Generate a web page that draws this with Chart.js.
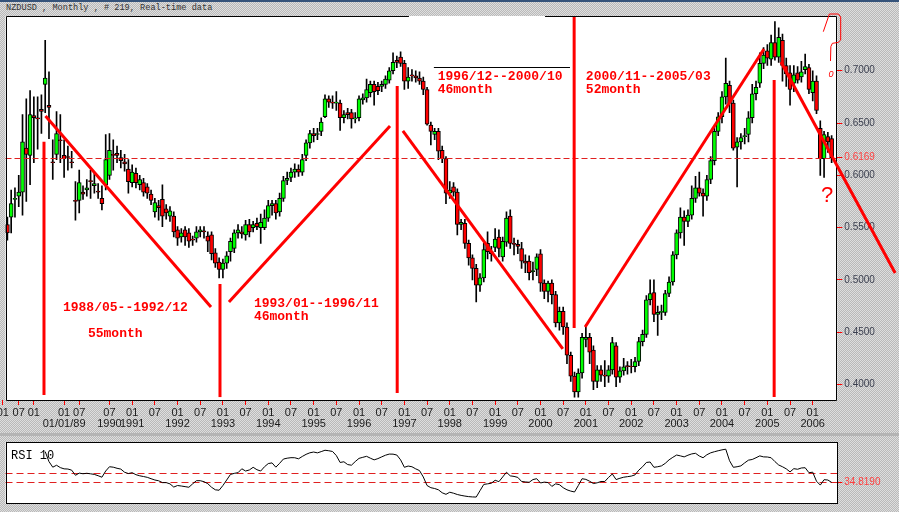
<!DOCTYPE html>
<html>
<head>
<meta charset="utf-8">
<script src="https://cdn.jsdelivr.net/npm/chart.js@4.4.0/dist/chart.umd.min.js"></script>
<style>
  html, body { margin: 0; padding: 0; }
  body {
    width: 899px; height: 512px; overflow: hidden; position: relative;
    background-color: #cccccc;
    background-image: repeating-conic-gradient(#b9b9b9 0% 25%, #dedede 0% 50%);
    background-size: 2px 2px;
  }
  #topline { position: absolute; left: 0; top: 0; width: 899px; height: 2px; background: #35537a; }
  #title { position: absolute; left: 6px; top: 3px; font: 8.6px "Liberation Mono", monospace; color: #333; white-space: pre; }
  #split { position: absolute; left: 0; top: 433px; width: 899px; height: 3px; background: #b4b4b4; }
  #price { position: absolute; left: 0; top: 0; }
  #rsi { position: absolute; left: 0; top: 434px; }
</style>
</head>
<body>
<div id="topline"></div>
<div id="title">NZDUSD , Monthly , # 219, Real-time data</div>
<div id="split"></div>
<canvas id="price" width="899" height="434"></canvas>
<canvas id="rsi" width="899" height="78"></canvas>
<script>
// monthly candles, oldest first (bar 33 = 1991/01)
const opens = [
  .553,.560,.577,.580,.584,.626,.619,.657,.655,.663,
  .687,.667,.613,.620,.634,.619,.618,.613,.576,.576,
  .584,.586,.595,.590,.585,.578,.591,.600,.620,.621,
  .617,.613,.606,.593,.602,.591,.593,.589,.582,.565,
  .571,.577,.568,.561,.561,.548,.541,.548,.545,.539,
  .540,.546,.547,.542,.543,.526,.517,.510,.516,.527,
  .530,.545,.546,.543,.553,.550,.554,.550,.550,.559,
  .571,.573,.565,.578,.595,.598,.603,.606,.603,.619,
  .631,.640,.639,.642,.656,.673,.670,.669,.669,.655,
  .660,.660,.654,.655,.672,.674,.679,.687,.685,.685,
  .687,.691,.700,.710,.713,.707,.690,.696,.695,.693,
  .690,.682,.648,.639,.642,.624,.616,.583,.589,.584,
  .553,.554,.535,.521,.511,.495,.502,.535,.527,.531,
  .541,.522,.536,.561,.535,.534,.530,.518,.518,.508,
  .510,.525,.497,.489,.497,.486,.459,.470,.455,.428,
  .408,.393,.411,.443,.445,.433,.403,.414,.409,.408,
  .414,.437,.407,.413,.418,.4175,.417,.422,.441,.448,
  .481,.488,.467,.469,.469,.487,.498,.524,.545,.560,
  .556,.562,.578,.588,.583,.580,.596,.614,.642,.656,
  .675,.686,.669,.627,.632,.637,.639,.655,.678,.688,
  .707,.719,.711,.727,.713,.729,.705,.698,.688,.698,
  .694,.701,.703,.679,.690,.645,.616,.637,.635
];
const highs = [
  .560,.586,.588,.600,.658,.673,.681,.675,.675,.677,
  .729,.699,.634,.661,.658,.634,.628,.623,.594,.605,
  .590,.596,.605,.603,.592,.590,.639,.640,.634,.628,
  .624,.620,.615,.610,.607,.600,.597,.592,.586,.578,
  .576,.591,.572,.570,.565,.551,.549,.551,.549,.542,
  .551,.551,.551,.546,.546,.530,.521,.520,.527,.540,
  .548,.553,.551,.557,.558,.556,.559,.563,.567,.576,
  .576,.576,.583,.599,.603,.607,.611,.610,.620,.634,
  .643,.645,.645,.655,.677,.676,.676,.680,.672,.662,
  .664,.663,.660,.676,.678,.692,.690,.690,.689,.690,
  .695,.703,.717,.714,.718,.710,.703,.701,.700,.699,
  .694,.684,.651,.645,.645,.628,.618,.594,.593,.587,
  .558,.558,.538,.524,.515,.506,.535,.546,.532,.549,
  .548,.541,.565,.567,.540,.538,.536,.524,.523,.517,
  .525,.529,.500,.499,.500,.489,.474,.474,.459,.431,
  .412,.415,.449,.457,.449,.437,.418,.418,.423,.418,
  .445,.440,.417,.425,.422,.424,.426,.445,.452,.485,
  .500,.500,.475,.476,.490,.503,.527,.548,.569,.566,
  .567,.590,.599,.603,.587,.600,.618,.647,.660,.680,
  .712,.690,.672,.636,.640,.645,.661,.687,.690,.717,
  .722,.725,.734,.747,.741,.735,.712,.705,.705,.704,
  .709,.716,.706,.700,.695,.652,.642,.641,.638
];
const lows = [
  .538,.545,.560,.570,.562,.575,.591,.612,.625,.640,
  .660,.635,.596,.615,.612,.598,.605,.607,.557,.564,
  .577,.580,.578,.583,.578,.567,.586,.596,.605,.612,
  .607,.604,.583,.589,.588,.586,.580,.578,.572,.560,
  .557,.551,.558,.556,.541,.533,.536,.533,.531,.533,
  .536,.541,.540,.527,.519,.512,.502,.502,.511,.518,
  .526,.540,.540,.538,.541,.546,.548,.535,.548,.556,
  .562,.558,.561,.575,.591,.594,.598,.599,.600,.614,
  .626,.632,.634,.638,.655,.665,.664,.662,.643,.650,
  .654,.645,.650,.652,.668,.670,.675,.667,.677,.680,
  .683,.688,.697,.703,.704,.682,.683,.690,.689,.687,
  .677,.648,.629,.634,.615,.612,.573,.578,.580,.543,
  .548,.530,.514,.500,.479,.489,.498,.520,.518,.527,
  .522,.518,.532,.530,.524,.525,.511,.507,.500,.500,
  .504,.489,.482,.479,.477,.455,.452,.448,.420,.403,
  .388,.388,.406,.436,.420,.395,.397,.403,.398,.402,
  .410,.398,.402,.409,.410,.411,.412,.418,.437,.445,
  .476,.460,.447,.462,.466,.484,.495,.520,.540,.533,
  .551,.558,.574,.580,.561,.576,.592,.610,.638,.650,
  .668,.660,.624,.589,.625,.630,.632,.650,.672,.684,
  .702,.705,.705,.710,.708,.690,.685,.667,.680,.688,
  .689,.697,.678,.671,.659,.600,.598,.622,.612
];
const closes = [
  .545,.573,.578,.584,.632,.620,.658,.655,.654,.661,
  .693,.665,.612,.640,.633,.616,.617,.612,.575,.593,
  .582,.588,.594,.592,.584,.573,.615,.624,.619,.619,
  .614,.611,.594,.603,.593,.596,.584,.583,.576,.574,
  .569,.561,.564,.566,.546,.540,.545,.541,.537,.538,
  .546,.548,.546,.537,.525,.516,.510,.516,.523,.537,
  .545,.548,.544,.553,.546,.553,.551,.555,.559,.571,
  .573,.564,.578,.595,.597,.603,.606,.603,.615,.631,
  .640,.638,.640,.651,.673,.670,.669,.670,.655,.658,
  .658,.654,.655,.673,.674,.682,.687,.680,.681,.687,
  .692,.700,.708,.708,.707,.690,.694,.695,.693,.690,
  .682,.649,.642,.642,.623,.616,.583,.586,.584,.553,
  .555,.535,.521,.511,.495,.502,.529,.527,.525,.539,
  .530,.537,.559,.535,.534,.532,.518,.516,.507,.509,
  .522,.497,.489,.497,.486,.459,.470,.455,.428,.408,
  .393,.411,.445,.445,.431,.403,.414,.409,.408,.414,
  .440,.407,.413,.417,.417,.417,.422,.441,.448,.481,
  .487,.467,.469,.470,.487,.498,.524,.545,.560,.556,
  .562,.578,.588,.583,.580,.596,.614,.642,.656,.675,
  .688,.669,.626,.632,.636,.638,.655,.678,.684,.707,
  .715,.712,.727,.713,.732,.705,.697,.682,.696,.691,
  .699,.704,.682,.690,.662,.616,.639,.632,.6169
];
// RSI(10), first ten bars have no value
const rsi = [
  null,null,null,null,null,null,null,null,null,null,
  84.5,68.4,59.4,62.5,58.7,56.7,56.4,54.6,46.3,49.8,
  48.8,49.5,48.7,47.7,45.6,43.2,53.2,60.1,59.4,57.6,
  56.3,51.2,49.1,50.5,47.3,45.5,44.3,43.0,40.8,38.7,
  37.5,34.5,34.5,32.5,27.3,29.8,29.0,28.0,27.0,32.5,
  37.6,37.6,36.0,32.8,27.0,22.9,22.2,29.8,38.7,47.7,
  49.4,50.5,56.8,53.2,54.9,59.2,55.3,53.2,60.1,65.2,
  66.3,59.4,65.6,72.5,73.9,74.7,74.6,72.9,76.7,80.1,
  82.6,83.8,82.5,84.5,86.7,85.9,84.7,78.1,67.0,68.1,
  63.6,62.6,68.4,73.6,75.3,76.9,73.9,71.2,73.2,76.0,
  78.7,80.5,80.4,79.0,71.2,59.2,61.2,60.1,56.7,53.9,
  43.6,29.8,26.3,25.0,22.9,18.1,15.6,19.0,17.4,15.3,
  13.9,12.8,11.9,11.4,11.2,21.5,31.6,32.5,33.5,38.3,
  36.0,43.6,51.2,45.4,44.5,42.9,36.3,35.6,35.0,39.4,
  40.8,33.9,35.3,34.6,28.4,32.5,31.2,26.3,22.9,20.8,
  19.4,29.8,40.8,39.7,36.7,33.0,34.2,36.3,36.3,42.9,
  48.4,39.4,41.5,43.2,44.1,45.0,47.0,54.6,60.1,67.0,
  67.7,59.2,60.1,61.5,65.6,71.2,75.3,79.0,77.6,76.0,
  78.7,80.8,81.8,77.4,74.6,79.4,82.5,84.3,85.9,87.3,
  88.4,69.8,59.2,60.1,61.5,66.3,70.7,71.8,74.6,77.6,
  76.0,75.8,74.6,68.4,62.9,60.1,56.7,51.8,57.0,56.0,
  58.1,58.5,50.5,51.3,36.7,30.5,39.2,38.7,34.819
];
const lastPrice = 0.6169;
const rsiLast = 34.819;
const rsiLevels = [50, rsiLast];

// axis ticks
const yTickVals = [0.40, 0.45, 0.50, 0.55, 0.60, 0.65, 0.70];
const xTickIdx = [-1.2,3,7,15,19,27,33,39,45,51,57,63,69,75,81,87,93,99,105,111,117,123,129,135,141,147,153,159,165,171,177,183,189,195,201,207,213];
const xTickTop = ['01','07','01','01','07','07','01','07','01','07','01','07','01','07','01','07','01','07','01','07','01','07','01','07','01','07','01','07','01','07','01','07','01','07','01','07','01'];
const xTickBot = ['','','','01/01/89','','1990','1991','','1992','','1993','','1994','','1995','','1996','','1997','','1998','','1999','','2000','','2001','','2002','','2003','','2004','','2005','','2006'];

// hand drawn marks, in [bar, price]
const trendLines = [
  [9.68,.6321, 9.68,.3900],
  [10.08,.6567, 53.85,.4741],
  [56.23,.4961, 56.23,.3880],
  [58.6,.4788, 101.2,.6471],
  [103.1,.6854, 103.1,.3919],
  [104.6,.6424, 146.9,.4340],
  [149.9,.7513, 149.9,.4540],
  [152.8,.4550, 200.1,.7207],
  [202.8,.6911, 202.8,.3880],
  [204.6,.7083, 234.8,.5066]
];
const noteTexts = [
  ['1988/05--1992/12', 14.7, .4731],
  ['55month', 21.3, .4483],
  ['1993/01--1996/11', 65.2, .4774],
  ['46month', 65.2, .4645],
  ['1996/12--2000/10', 113.8, .6940],
  ['46month', 113.8, .6820],
  ['2000/11--2005/03', 153.0, .6940],
  ['52month', 153.0, .6820]
];
const scribble = [[215.8,.7373],[217.4,.7542],[219.8,.7542],[220.4,.7513],[220.4,.7293],[219.7,.7270],[218.2,.7262],[217.8,.7231],[217.7,.7093]];

const nBars = opens.length;
const labels = Array.from({ length: nBars + 1 }, (_, i) => String(i));
const AXIS_W = 61.7;

const pricePlugin = {
  id: 'pricePanel',
  beforeDraw(chart) {
    const { ctx, chartArea: a } = chart;
    ctx.save();
    ctx.fillStyle = '#ffffff';
    ctx.fillRect(a.left, a.top, a.right - a.left, a.bottom - a.top);
    ctx.restore();
  },
  afterDatasetsDraw(chart) {
    const { ctx, chartArea: a, scales: { x, y } } = chart;
    const px = i => x.getPixelForValue(i);
    const py = p => y.getPixelForValue(p);
    ctx.save();
    // last price line
    ctx.strokeStyle = '#e02020';
    ctx.lineWidth = 1;
    ctx.setLineDash([6, 3]);
    const yl = Math.round(py(lastPrice)) + 0.5;
    ctx.beginPath(); ctx.moveTo(a.left, yl); ctx.lineTo(a.right, yl); ctx.stroke();
    ctx.setLineDash([]);

    // border, top edge has a gap
    ctx.strokeStyle = '#000';
    const L = Math.round(a.left) + 0.5, R = Math.round(a.right) - 0.5;
    const T = Math.round(a.top) + 0.5, B = Math.round(a.bottom) + 0.5;
    ctx.beginPath();
    ctx.moveTo(L, T); ctx.lineTo(px(106.2), T);
    ctx.moveTo(px(142.2), T); ctx.lineTo(R, T);
    ctx.moveTo(L, T); ctx.lineTo(L, B); ctx.lineTo(R, B); ctx.lineTo(R, T);
    ctx.stroke();
    const yb = Math.round(py(.7035)) + 0.5;
    ctx.beginPath(); ctx.moveTo(px(112.8), yb); ctx.lineTo(px(148.8), yb); ctx.stroke();

    // red trend lines
    ctx.strokeStyle = '#ff0000';
    ctx.lineWidth = 3;
    ctx.lineCap = 'butt';
    trendLines.forEach(([i1, p1, i2, p2]) => {
      ctx.beginPath(); ctx.moveTo(px(i1), py(p1)); ctx.lineTo(px(i2), py(p2)); ctx.stroke();
    });

    // scribble top right
    ctx.lineWidth = 1;
    ctx.beginPath();
    scribble.forEach(([i, p], k) => k ? ctx.lineTo(px(i), py(p)) : ctx.moveTo(px(i), py(p)));
    ctx.stroke();
    ctx.fillStyle = '#ff0000';
    ctx.font = 'italic 9px "Liberation Sans"';
    ctx.textBaseline = 'middle';
    ctx.fillText('0', px(217.2), py(.6965));

    // texts
    ctx.font = 'bold 13px "Liberation Mono"';
    ctx.textAlign = 'left';
    noteTexts.forEach(([t, i, p]) => ctx.fillText(t, px(i), py(p)));
    ctx.font = '22px "Liberation Sans"';
    ctx.textAlign = 'center';
    ctx.fillText('?', px(216.8), py(.5802));
    ctx.restore();
  }
};

new Chart(document.getElementById('price'), {
  type: 'bar',
  data: {
    labels: labels,
    datasets: [
      {
        label: 'body',
        data: opens.map((o, i) => [o, closes[i]]),
        backgroundColor: opens.map((o, i) => closes[i] >= o ? '#00ff00' : '#ff0000'),
        borderColor: '#000000',
        borderWidth: 1,
        borderSkipped: false,
        barThickness: 4,
        grouped: false,
        order: 0
      },
      {
        label: 'wick',
        data: lows.map((l, i) => [l, highs[i]]),
        backgroundColor: '#000000',
        barThickness: 1,
        grouped: false,
        order: 1
      }
    ]
  },
  options: {
    responsive: false,
    animation: false,
    devicePixelRatio: 1,
    layout: { padding: { left: 5.5, top: 16, right: 0, bottom: 0 } },
    plugins: { legend: { display: false }, tooltip: { enabled: false } },
    scales: {
      x: {
        offset: true,
        afterFit: s => { s.height = 34; s.paddingLeft = 0; s.paddingRight = 0; },
        afterBuildTicks: s => { s.ticks = xTickIdx.map(v => ({ value: v })); },
        grid: { drawOnChartArea: false, offset: false, tickLength: 5, tickColor: '#ff0000' },
        border: { display: false },
        ticks: {
          autoSkip: false, maxRotation: 0, padding: 2, color: '#1a1a1a',
          font: { family: '"Liberation Sans"', size: 11, lineHeight: 1.0 },
          callback: v => {
            const k = xTickIdx.indexOf(v);
            return xTickBot[k] ? [xTickTop[k], xTickBot[k]] : xTickTop[k];
          }
        }
      },
      y: {
        position: 'right',
        min: 0.3852,
        max: 0.7523,
        afterFit: s => { s.width = AXIS_W; s.paddingTop = 0; s.paddingBottom = 0; },
        afterBuildTicks: s => { s.ticks = yTickVals.concat([lastPrice]).map(v => ({ value: v })); },
        grid: { drawOnChartArea: false, tickLength: 5, tickColor: '#ff0000' },
        border: { display: false },
        ticks: {
          autoSkip: false, padding: 2,
          color: c => (c.tick && c.tick.value === lastPrice) ? '#ff4040' : '#3c4050',
          font: { family: '"Liberation Sans"', size: 10 },
          callback: v => Number(v).toFixed(4)
        }
      }
    }
  },
  plugins: [pricePlugin]
});

const rsiPlugin = {
  id: 'rsiPanel',
  beforeDraw(chart) {
    const { ctx, chartArea: a } = chart;
    ctx.save();
    ctx.fillStyle = '#ffffff';
    ctx.fillRect(a.left, a.top, a.right - a.left, a.bottom - a.top);
    ctx.restore();
  },
  beforeDatasetsDraw(chart) {
    const { ctx, chartArea: a, scales: { y } } = chart;
    ctx.save();
    ctx.strokeStyle = '#e02020';
    ctx.lineWidth = 1;
    ctx.setLineDash([7, 4]);
    rsiLevels.forEach(v => {
      const yy = Math.round(y.getPixelForValue(v)) + 0.5;
      ctx.beginPath(); ctx.moveTo(a.left, yy); ctx.lineTo(a.right, yy); ctx.stroke();
    });
    ctx.setLineDash([]);
    ctx.strokeStyle = '#000';
    ctx.strokeRect(Math.round(a.left) + 0.5, Math.round(a.top) + 0.5, Math.round(a.right - a.left) - 1, Math.round(a.bottom - a.top) - 1);
    ctx.fillStyle = '#000';
    ctx.font = '12px "Liberation Mono"';
    ctx.textBaseline = 'middle';
    ctx.fillText('RSI 10', a.left + 5.5, a.top + 13.5);
    ctx.restore();
  }
};

new Chart(document.getElementById('rsi'), {
  type: 'line',
  data: {
    labels: labels,
    datasets: [{
      data: rsi,
      borderColor: '#000000',
      borderWidth: 1,
      pointRadius: 0,
      tension: 0,
      spanGaps: false
    }]
  },
  options: {
    responsive: false,
    animation: false,
    devicePixelRatio: 1,
    layout: { padding: { left: 5.5, top: 3.5, right: 0, bottom: 1.5 } },
    plugins: { legend: { display: false }, tooltip: { enabled: false } },
    scales: {
      x: { display: false, offset: true },
      y: {
        position: 'right',
        min: 0,
        max: 100,
        afterFit: s => { s.width = AXIS_W; },
        afterBuildTicks: s => { s.ticks = [{ value: rsiLast }]; },
        grid: { drawOnChartArea: false, tickLength: 5, tickColor: '#ff0000' },
        border: { display: false },
        ticks: {
          padding: 2, color: '#ff4040',
          font: { family: '"Liberation Sans"', size: 10 },
          callback: v => Number(v).toFixed(4)
        }
      }
    }
  },
  plugins: [rsiPlugin]
});
</script>
</body>
</html>
